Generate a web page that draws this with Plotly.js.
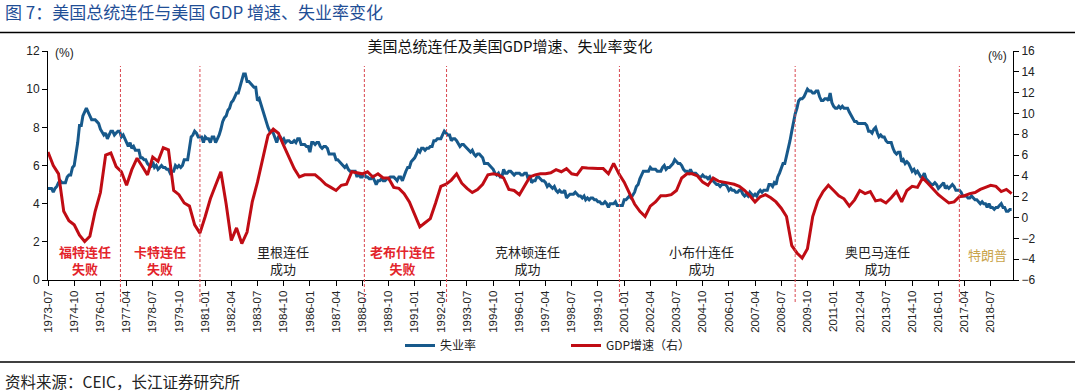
<!DOCTYPE html>
<html>
<head>
<meta charset="utf-8">
<script src="https://cdn.plot.ly/plotly-3.0.1.min.js"></script>
<style>
html,body{margin:0;padding:0;background:#fff;}
#chart{width:1075px;height:392px;}
</style>
</head>
<body>
<div id="chart"></div>
<script>
// ---------------- data ----------------
const headerTitle = "图 7：美国总统连任与美国 GDP 增速、失业率变化";
const chartTitle = "美国总统连任及美国GDP增速、失业率变化";
const sourceText = "资料来源：CEIC，长江证券研究所";
const seriesNames = ["失业率", "GDP增速（右）"];

// Monthly unemployment rate (%), starting 1973-07
const unempStart = "1973-07";
const unemployment = [
  4.8,4.8,4.8,4.6,4.8,4.9,
  5.1,5.2,5.1,5.1,5.1,5.4,5.5,5.5,5.9,6.0,6.6,7.2,
  8.1,8.1,8.6,8.8,9.0,8.8,8.6,8.4,8.4,8.4,8.3,8.2,
  7.9,7.7,7.6,7.7,7.4,7.6,7.8,7.8,7.6,7.7,7.8,7.8,
  7.5,7.6,7.4,7.2,7.0,7.2,6.9,7.0,6.8,6.8,6.8,6.4,
  6.4,6.3,6.3,6.1,6.0,5.9,6.2,5.9,6.0,5.8,5.9,6.0,
  5.9,5.9,5.8,5.8,5.6,5.7,5.7,6.0,5.9,6.0,5.9,6.0,
  6.3,6.3,6.3,6.9,7.5,7.6,7.8,7.7,7.5,7.5,7.5,7.2,
  7.5,7.4,7.4,7.2,7.5,7.5,7.2,7.4,7.6,7.9,8.3,8.5,
  8.6,8.9,9.0,9.3,9.4,9.6,9.8,9.8,10.1,10.4,10.8,10.8,
  10.4,10.4,10.3,10.2,10.1,10.1,9.4,9.5,9.2,8.8,8.5,8.3,
  8.0,7.8,7.8,7.7,7.4,7.2,7.5,7.5,7.3,7.4,7.2,7.3,
  7.3,7.2,7.2,7.3,7.2,7.4,7.4,7.1,7.1,7.1,7.0,7.0,
  6.7,7.2,7.2,7.1,7.2,7.2,7.0,6.9,7.0,7.0,6.9,6.6,
  6.6,6.6,6.6,6.3,6.3,6.2,6.1,6.0,5.9,6.0,5.8,5.7,
  5.7,5.7,5.7,5.4,5.6,5.4,5.4,5.6,5.4,5.4,5.3,5.3,
  5.4,5.2,5.0,5.2,5.2,5.3,5.2,5.2,5.3,5.3,5.4,5.4,
  5.4,5.3,5.2,5.4,5.4,5.2,5.5,5.7,5.9,5.9,6.2,6.3,
  6.4,6.6,6.8,6.7,6.9,6.9,6.8,6.9,6.9,7.0,7.0,7.3,
  7.3,7.4,7.4,7.4,7.6,7.8,7.7,7.6,7.6,7.3,7.4,7.4,
  7.3,7.1,7.0,7.1,7.1,7.0,6.9,6.8,6.7,6.8,6.6,6.5,
  6.6,6.6,6.5,6.4,6.1,6.1,6.1,6.0,5.9,5.8,5.6,5.5,
  5.6,5.4,5.4,5.8,5.6,5.6,5.7,5.7,5.6,5.5,5.6,5.6,
  5.6,5.5,5.5,5.6,5.6,5.3,5.5,5.1,5.2,5.2,5.4,5.4,
  5.3,5.2,5.2,5.1,4.9,5.0,4.9,4.8,4.9,4.7,4.6,4.7,
  4.6,4.6,4.7,4.3,4.4,4.5,4.5,4.5,4.6,4.5,4.4,4.4,
  4.3,4.4,4.2,4.3,4.2,4.3,4.3,4.2,4.2,4.1,4.1,4.0,
  4.0,4.1,4.0,3.8,4.0,4.0,4.0,4.1,3.9,3.9,3.9,3.9,
  4.2,4.2,4.3,4.4,4.3,4.5,4.6,4.9,5.0,5.3,5.5,5.7,
  5.7,5.7,5.7,5.9,5.8,5.8,5.8,5.7,5.7,5.7,5.9,6.0,
  5.8,5.9,5.9,6.0,6.1,6.3,6.2,6.1,6.1,6.0,5.8,5.7,
  5.7,5.6,5.8,5.6,5.6,5.6,5.5,5.4,5.4,5.5,5.4,5.4,
  5.3,5.4,5.2,5.2,5.1,5.0,5.0,4.9,5.0,5.0,5.0,4.9,
  4.7,4.8,4.7,4.7,4.6,4.6,4.7,4.7,4.5,4.4,4.5,4.4,
  4.6,4.5,4.4,4.5,4.4,4.6,4.7,4.6,4.7,4.7,4.7,5.0,
  5.0,4.9,5.1,5.0,5.4,5.6,5.8,6.1,6.1,6.5,6.8,7.3,
  7.8,8.3,8.7,9.0,9.4,9.5,9.5,9.6,9.8,10.0,9.9,9.9,
  9.8,9.8,9.9,9.9,9.6,9.4,9.4,9.5,9.5,9.4,9.8,9.3,
  9.1,9.0,9.0,9.1,9.0,9.1,9.0,9.0,9.0,8.8,8.6,8.5,
  8.3,8.3,8.2,8.2,8.2,8.2,8.2,8.1,7.8,7.8,7.7,7.9,
  8.0,7.7,7.5,7.6,7.5,7.5,7.3,7.2,7.2,7.2,6.9,6.7,
  6.6,6.7,6.7,6.2,6.3,6.1,6.2,6.1,5.9,5.7,5.8,5.6,
  5.7,5.5,5.4,5.4,5.6,5.3,5.2,5.1,5.0,5.0,5.1,5.0,
  4.8,4.9,5.0,5.1,4.8,4.9,4.8,4.9,5.0,4.9,4.7,4.7,
  4.7,4.6,4.4,4.4,4.4,4.3,4.3,4.4,4.3,4.2,4.2,4.1,
  4.0,4.1,4.0,4.0,3.8,4.0,3.8,3.8,3.7,3.8,3.8,3.9,
  4.0,3.8,3.8,3.6,3.6,3.7,3.7
];

// Quarterly real GDP growth yoy (%), starting 1973Q2
const gdpStart = "1973Q2";
const gdpGrowth = [
  6.3, 5.0, 4.2, 0.6, -0.3, -0.7, -1.7, -2.3, -1.8, 0.6, 2.4,
  6.0, 6.2, 4.9, 4.4, 3.1, 4.6, 5.7, 4.9, 4.1, 5.8,
  5.4, 6.7, 6.5, 2.6, 2.2, 1.4, 1.1, -0.7, -1.5, 0.1,
  1.8, 3.1, 4.4, 1.3, -2.2, -1.0, -2.5, -1.4, 1.5, 3.4,
  5.8, 7.9, 8.5, 8.1, 6.9, 5.8, 4.7, 3.9, 4.1, 4.1,
  4.1, 3.7, 3.2, 2.9, 2.6, 3.1, 3.2, 4.4, 4.3, 4.2,
  4.4, 3.9, 4.2, 3.8, 3.8, 2.9, 2.8, 2.3, 1.5, 0.3,
  -0.9, -0.5, -0.1, 1.4, 3.0, 3.2, 3.6, 4.2, 3.3, 2.8,
  2.4, 2.7, 3.2, 4.1, 4.2, 4.1, 3.8, 2.7, 2.6, 2.2,
  3.0, 3.9, 4.1, 4.2, 4.2, 4.3, 4.6, 4.4, 4.7, 4.2,
  4.1, 4.8, 4.75, 4.7, 4.7, 4.7, 4.2, 5.2, 4.2, 3.4,
  2.4, 1.3, 0.6, 0.1, 1.1, 1.5, 2.1, 2.1, 2.2, 2.6,
  3.8, 4.2, 4.2, 4.0, 3.4, 3.1, 3.8, 3.5, 3.4, 3.3,
  3.2, 3.0, 2.6, 2.1, 1.5, 2.0, 2.2, 1.9, 1.5, 0.9,
  0.1, -2.7, -3.4, -3.9, -3.0, 0.1, 1.6, 2.5, 3.1, 2.6,
  2.1, 1.8, 1.1, 1.7, 2.6, 2.3, 2.5, 1.6, 1.7, 1.4,
  1.9, 2.5, 1.5, 2.6, 3.0, 2.9, 3.8, 3.3, 2.7, 2.2,
  1.8, 1.4, 1.5, 2.0, 2.1, 2.3, 2.4, 2.7, 2.9, 3.1,
  3.0, 2.5, 2.7, 2.3
];

// x-axis tick labels
const tickLabels = ["1973-07","1974-10","1976-01","1977-04","1978-07","1979-10","1981-01","1982-04",
  "1983-07","1984-10","1986-01","1987-04","1988-07","1989-10","1991-01","1992-04","1993-07","1994-10",
  "1996-01","1997-04","1998-07","1999-10","2001-01","2002-04","2003-07","2004-10","2006-01","2007-04",
  "2008-07","2009-10","2011-01","2012-04","2013-07","2014-10","2016-01","2017-04","2018-07"];

// presidential term boundaries (dashed lines)
const termBoundaries = ["1976-12-15","1980-10-01","1988-08-07","1992-07-10","2000-10-10","2009-03-01","2017-01-01"];

// presidency labels
const termLabels = ["福特连任<br>失败","卡特连任<br>失败","里根连任<br>成功","老布什连任<br>失败",
  "克林顿连任<br>成功","小布什连任<br>成功","奥巴马连任<br>成功","特朗普"];
const termLabelDates = ["1975-04-01","1978-11-01","1984-09-15","1990-06-01","1996-05-15","2004-09-15","2013-02-01","2018-05-01"];
const termOutcome = ["fail","fail","success","fail","success","success","success","current"];

// ---------------- helpers ----------------
function pad(n){return (n<10?"0":"")+n;}
function monthDates(start, n){
  let [y,m] = start.split("-").map(Number);
  const out=[];
  for(let i=0;i<n;i++){ out.push(y+"-"+pad(m)+"-01"); m++; if(m>12){m=1;y++;} }
  return out;
}
// quarterly values plotted at the first day after the quarter ends
function quarterDates(start, n){
  let y = +start.slice(0,4), q = +start.slice(5);
  const out=[];
  for(let i=0;i<n;i++){
    let m = q*3+1, yy=y; if(m>12){m-=12;yy++;}
    out.push(yy+"-"+pad(m)+"-01");
    q++; if(q>4){q=1;y++;}
  }
  return out;
}

const W=1075, H=392, L=48, R=62, T=51, B=112;
const PW=W-L-R, PH=H-T-B;
const px=(x)=>(x-L)/PW, py=(y)=>(T+PH-y)/PH;

const blue="#17598b", red="#c00c14";

const traces=[
  {x: monthDates(unempStart, unemployment.length), y: unemployment, name: seriesNames[0],
   type:"scatter", mode:"lines", line:{color:blue, width:3}, yaxis:"y"},
  {x: quarterDates(gdpStart, gdpGrowth.length), y: gdpGrowth, name: seriesNames[1],
   type:"scatter", mode:"lines", line:{color:red, width:3}, yaxis:"y2"}
];

const shapes = termBoundaries.map(d=>({type:"line", xref:"x", yref:"paper", x0:d, x1:d,
  y0:py(302), y1:py(66), line:{color:"#d9474f", width:1, dash:"3px,2px"}}));
shapes.push({type:"line", xref:"paper", yref:"paper", x0:px(0), x1:px(W), y0:py(32.5), y1:py(32.5), line:{color:"#000", width:1.5}});
shapes.push({type:"line", xref:"paper", yref:"paper", x0:px(0), x1:px(W), y0:py(362), y1:py(362), line:{color:"#000", width:1.5}});

const outcomeColor={fail:"#e3242b", success:"#222", current:"#c9a44a"};
const annotations = termLabels.map((t,i)=>({
  x: termLabelDates[i], xref:"x", y: termOutcome[i]==="current"? py(254): py(260), yref:"paper",
  text: termOutcome[i]==="fail"? "<b>"+t+"</b>" : t, showarrow:false,
  font:{family:"Noto Sans CJK SC", size:13, color: outcomeColor[termOutcome[i]]},
  xanchor:"center", yanchor:"middle", align:"center"
}));
annotations.push({x:px(3), y:py(12), xref:"paper", yref:"paper", xanchor:"left", yanchor:"middle",
  text: headerTitle, showarrow:false, font:{family:"Noto Sans CJK SC", size:17, color:"#1f4e96"}});
annotations.push({x:px(3), y:py(381), xref:"paper", yref:"paper", xanchor:"left", yanchor:"middle",
  text: sourceText, showarrow:false, font:{family:"Noto Sans CJK SC", size:15.5, color:"#222"}});
annotations.push({x:px(64), y:py(53), xref:"paper", yref:"paper", xanchor:"center", yanchor:"middle",
  text:"(%)", showarrow:false, font:{family:"Liberation Sans", size:12, color:"#222"}});
annotations.push({x:px(997), y:py(56), xref:"paper", yref:"paper", xanchor:"center", yanchor:"middle",
  text:"(%)", showarrow:false, font:{family:"Liberation Sans", size:12, color:"#222"}});

const layout={
  width:W, height:H,
  margin:{l:L, r:R, t:T, b:B, pad:0},
  paper_bgcolor:"#fff", plot_bgcolor:"#fff",
  font:{family:"Liberation Sans, Noto Sans CJK SC", size:12, color:"#222"},
  title:{text: chartTitle, xref:"paper", x:px(510), xanchor:"center", y:1-47/H, yanchor:"middle",
    font:{family:"Noto Sans CJK SC", size:15, color:"#111"}},
  showlegend:true,
  legend:{orientation:"h", x:px(400), xanchor:"left", y:py(331), yanchor:"top",
    entrywidth:121, entrywidthmode:"pixels",
    font:{family:"Noto Sans CJK SC", size:12, color:"#222"}, bgcolor:"rgba(0,0,0,0)", itemwidth:30},
  xaxis:{type:"date", range:["1973-07-01","2019-07-25"], tickmode:"array",
    tickvals: tickLabels.map(s=>s+"-01"), ticktext: tickLabels, tickangle:-90,
    ticks:"outside", ticklen:5, tickcolor:"#000", showline:true, linecolor:"#000", linewidth:1,
    showgrid:false, zeroline:false, tickfont:{family:"Liberation Sans", size:11.5, color:"#222"}},
  yaxis:{range:[0,12], dtick:2, tick0:0, ticks:"outside", ticklen:5, tickcolor:"#000",
    showline:true, linecolor:"#000", linewidth:1, showgrid:false, zeroline:false,
    tickfont:{family:"Liberation Sans", size:12, color:"#222"}},
  yaxis2:{range:[-6,16], dtick:2, tick0:0, overlaying:"y", side:"right", ticks:"outside", ticklen:5,
    tickcolor:"#000", showline:true, linecolor:"#000", linewidth:1, showgrid:false, zeroline:false,
    tickfont:{family:"Liberation Sans", size:12, color:"#222"}},
  shapes: shapes,
  annotations: annotations
};

Plotly.newPlot("chart", traces, layout, {displayModeBar:false, staticPlot:true});
</script>
</body>
</html>
